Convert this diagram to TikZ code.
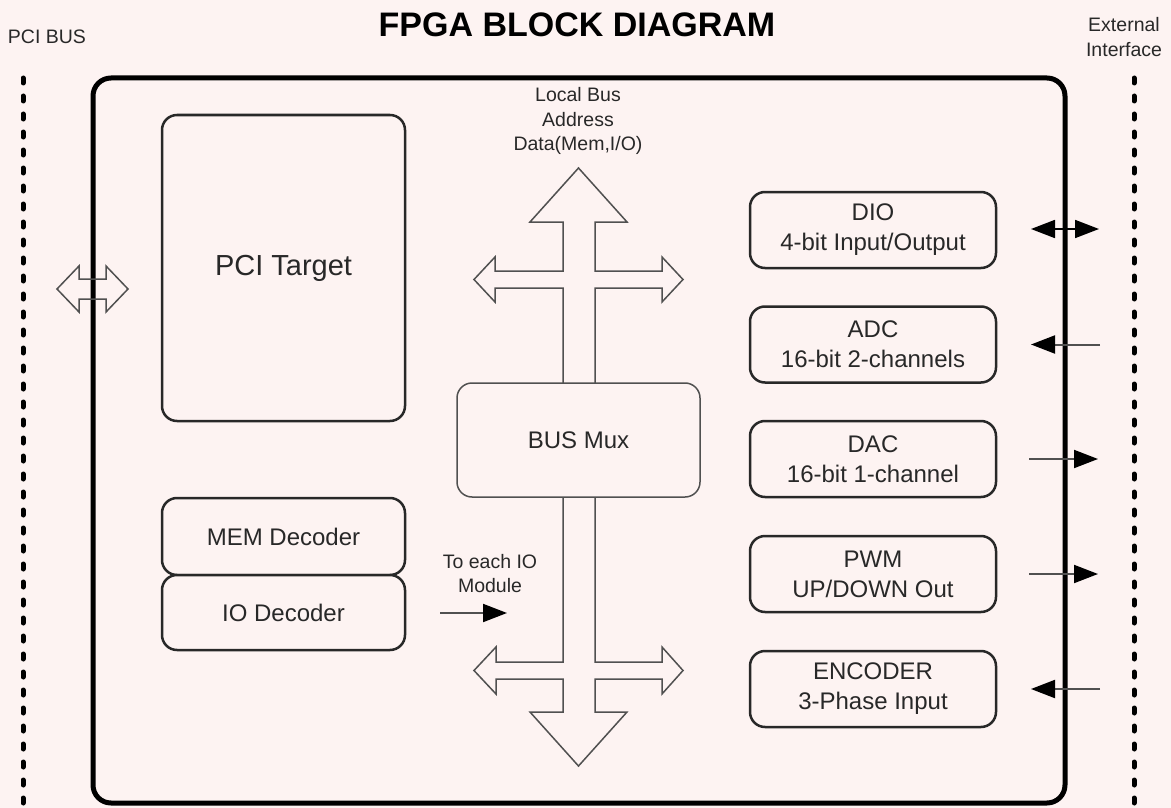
\documentclass[tikz,border=0pt]{standalone}
\usepackage{fontspec}
\setmainfont{Liberation Sans}
\usetikzlibrary{arrows.meta}
\definecolor{bg}{RGB}{253,243,242}
\definecolor{ink}{RGB}{40,40,40}
\definecolor{hollow}{RGB}{80,80,80}
\begin{document}
\begin{tikzpicture}[x=1pt,y=-1pt,
  txt/.style={text=ink,font=\fontsize{24}{30}\selectfont,align=center,inner sep=0pt},
  small/.style={text=ink,font=\fontsize{19.5}{24.5}\selectfont,align=center,inner sep=0pt},
  blk/.style={draw=ink,line width=2.5pt,rounded corners=15pt,fill=bg,txt,minimum width=243pt},
  rblk/.style={draw=ink,line width=2.5pt,rounded corners=15pt,fill=bg,txt,minimum width=246pt,minimum height=76pt},
  hol/.style={draw=hollow,line width=1.5pt,line join=miter},
  tip/.style={Triangle[length=24pt,width=18pt,black]},
  sig/.style={draw=hollow,line width=2pt,-{Triangle[length=24pt,width=18pt,black]}},
  bsig/.style={draw=black,line width=1.8pt,{Triangle[length=24pt,width=18pt,black]}-{Triangle[length=24pt,width=18pt,black]}},
  dotline/.style={draw=black,line width=5pt,dash pattern=on 5pt off 13pt,line cap=round}
]
\fill[bg] (0,0) rectangle (1171,808);
\useasboundingbox (0,0) rectangle (1171,808);

% headings
\node[text=black,font=\bfseries\fontsize{34}{40}\selectfont,inner sep=0pt] (title) at (577,25) {FPGA BLOCK DIAGRAM};
\node[small] (pcibus) at (47,37) {PCI BUS};
\node[small] (ext) at (1124,37) {External\\Interface};

% dotted bus lines
\coordinate (lt) at (23,78); \coordinate (lb) at (23,808);
\coordinate (rt) at (1134,78); \coordinate (rb) at (1134,808);
\draw[dotline] (lt) -- (lb);
\draw[dotline] (rt) -- (rb);

% outer FPGA box
\node[draw=black,line width=5pt,rounded corners=18pt,minimum width=972pt,minimum height=725pt,inner sep=0pt] (fpga) at (579,440.5) {};

% PCI double arrow
\draw[hol] (57,289) -- (79,266) -- (79,279) -- (106,279) -- (106,266) -- (128,289)
  -- (106,312) -- (106,299) -- (79,299) -- (79,312) -- cycle;

% big bus cross arrow
\draw[hol] (578.5,168) -- (627,222) -- (595,222) -- (595,271) -- (662,271) -- (662,257) -- (683,279.5)
  -- (662,302) -- (662,288) -- (595,288) -- (595,662) -- (662,662) -- (662,647) -- (683,670.5)
  -- (662,694) -- (662,679) -- (595,679) -- (595,712) -- (627,712) -- (578.5,766) -- (530,712)
  -- (563,712) -- (563,679) -- (496,679) -- (496,694) -- (474,670.5) -- (496,647) -- (496,662)
  -- (563,662) -- (563,288) -- (495,288) -- (495,302) -- (474,279.5) -- (495,257) -- (495,271)
  -- (563,271) -- (563,222) -- (530,222) -- cycle;

\node[small] (lbus) at (578,121) {Local Bus\\Address\\Data(Mem,I/O)};

% left blocks
\node[blk,minimum height=306pt] (pci) at (283.5,268) {\fontsize{29}{34}\selectfont PCI Target};
\node[blk,minimum height=77pt] (mem) at (283.5,536.5) {MEM Decoder};
\node[blk,minimum height=75pt] (iod) at (283.5,612.5) {IO Decoder};

% bus mux
\node[draw=hollow,line width=1.5pt,rounded corners=15pt,fill=bg,txt,minimum width=243pt,minimum height=114pt] (mux) at (578.5,440) {BUS Mux};

% to each IO module
\node[small] (toio) at (490,573.5) {To each IO\\Module};
\coordinate (ioa) at (440,613); \coordinate (iob) at (507,613);
\draw[sig] (ioa) -- (iob);

% right blocks
\node[rblk] (dio) at (873,230) {DIO\\4-bit Input/Output};
\node[rblk] (adc) at (873,344.5) {ADC\\16-bit 2-channels};
\node[rblk] (dac) at (873,459) {DAC\\16-bit 1-channel};
\node[rblk] (pwm) at (873,574) {PWM\\UP/DOWN Out};
\node[rblk] (enc) at (873,689) {ENCODER\\3-Phase Input};

% external signals
\coordinate (dioL) at (1031,229); \coordinate (dioR) at (1099,229);
\coordinate (adcL) at (1031,344.5); \coordinate (adcR) at (1100,344.5);
\coordinate (dacL) at (1029,459); \coordinate (dacR) at (1098,459);
\coordinate (pwmL) at (1029,574); \coordinate (pwmR) at (1098,574);
\coordinate (encL) at (1031,689); \coordinate (encR) at (1100,689);
\draw[bsig] (dioL) -- (dioR);
\draw[sig] (adcR) -- (adcL);
\draw[sig] (dacL) -- (dacR);
\draw[sig] (pwmL) -- (pwmR);
\draw[sig] (encR) -- (encL);
\end{tikzpicture}
\end{document}
